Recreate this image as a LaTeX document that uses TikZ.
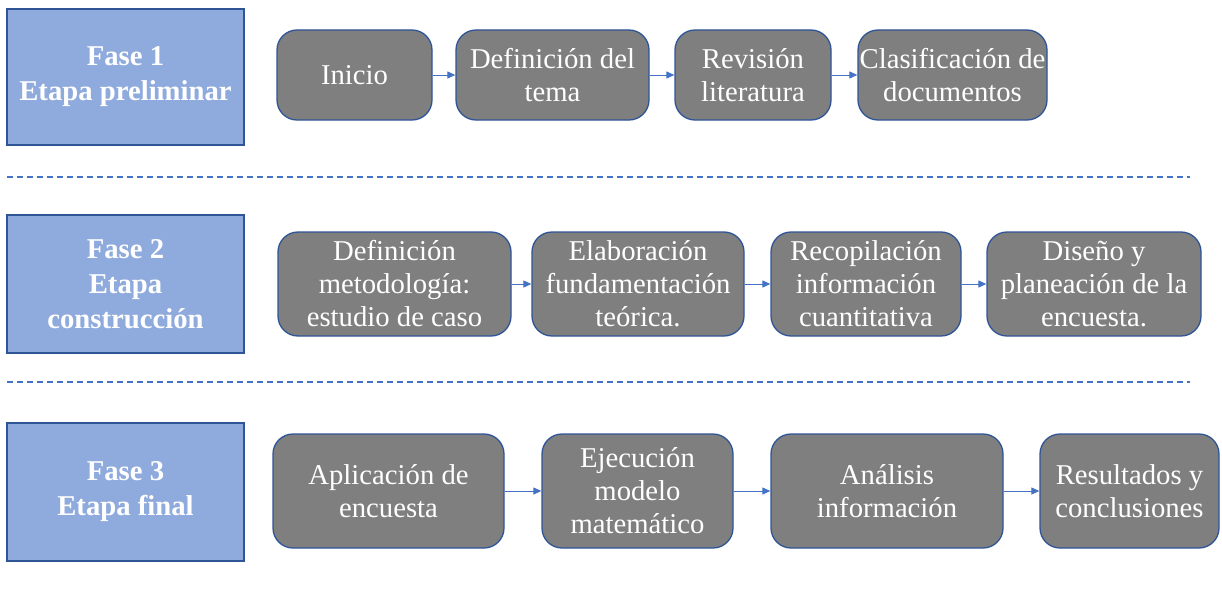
\documentclass[tikz,border=0pt]{standalone}
\usepackage{fontspec}
\setmainfont{Liberation Serif}
\usetikzlibrary{arrows.meta}
\definecolor{faseblue}{HTML}{8FAADC}
\definecolor{edgeblue}{HTML}{2F5597}
\definecolor{linkblue}{HTML}{4472C4}
\definecolor{stepgray}{HTML}{7F7F7F}
\begin{document}
\begin{tikzpicture}[x=1pt,y=-1pt,
    fase/.style={draw=edgeblue,line width=1.3pt,fill=faseblue,text=white,align=center,
        font=\fontsize{28.7}{35}\selectfont\bfseries,minimum width=237pt,inner sep=1pt},
    paso/.style={draw=edgeblue,line width=1.3pt,fill=stepgray,rounded corners=20pt,text=white,
        align=center,font=\fontsize{28.7}{33}\selectfont,inner sep=1pt},
    enlace/.style={draw=linkblue,line width=1pt,-{Triangle[length=8pt,width=7pt]}},
    separa/.style={draw=linkblue,line width=1.4pt,dash pattern=on 6pt off 4pt}]
    \useasboundingbox (0,0) rectangle (1222,594);
    % fases
    \foreach \y/\h/\n/\l in {77/136/f1/{Fase 1\\Etapa preliminar},284/138/f2/{Fase 2\\Etapa\\construcción},492/138/f3/{Fase 3\\Etapa final}}{
        \node[fase,minimum height=\h*1pt] (\n) at (125.5,\y) {\l};
    }
    % etapa preliminar
    \foreach \x/\w/\n/\l in {354.5/155/a1/{Inicio},552.5/193/a2/{Definición del\\tema},753/156/a3/{Revisión\\literatura},952.5/189/a4/{Clasificación de\\documentos}}{
        \node[paso,minimum width=\w*1pt,minimum height=90pt] (\n) at (\x,75) {\l};
    }
    % etapa construccion
    \foreach \x/\w/\n/\l in {394.5/233/b1/{Definición\\metodología:\\estudio de caso},638/212/b2/{Elaboración\\fundamentación\\teórica.},866/190/b3/{Recopilación\\información\\cuantitativa},1094/214/b4/{Diseño y\\planeación de la\\encuesta.}}{
        \node[paso,minimum width=\w*1pt,minimum height=104pt] (\n) at (\x,284) {\l};
    }
    % etapa final
    \foreach \x/\w/\n/\l in {388.5/231/c1/{Aplicación de\\encuesta},637.5/191/c2/{Ejecución\\modelo\\matemático},887/232/c3/{Análisis\\información},1129.5/179/c4/{Resultados y\\conclusiones}}{
        \node[paso,minimum width=\w*1pt,minimum height=114pt] (\n) at (\x,491) {\l};
    }
    \foreach \m/\n in {a1/a2,a2/a3,a3/a4,b1/b2,b2/b3,b3/b4,c1/c2,c2/c3,c3/c4}{
        \draw[enlace] (\m) -- (\n);
    }
    \draw[separa] (7,177) -- (1190,177);
    \draw[separa] (7,382) -- (1190,382);
\end{tikzpicture}
\end{document}
